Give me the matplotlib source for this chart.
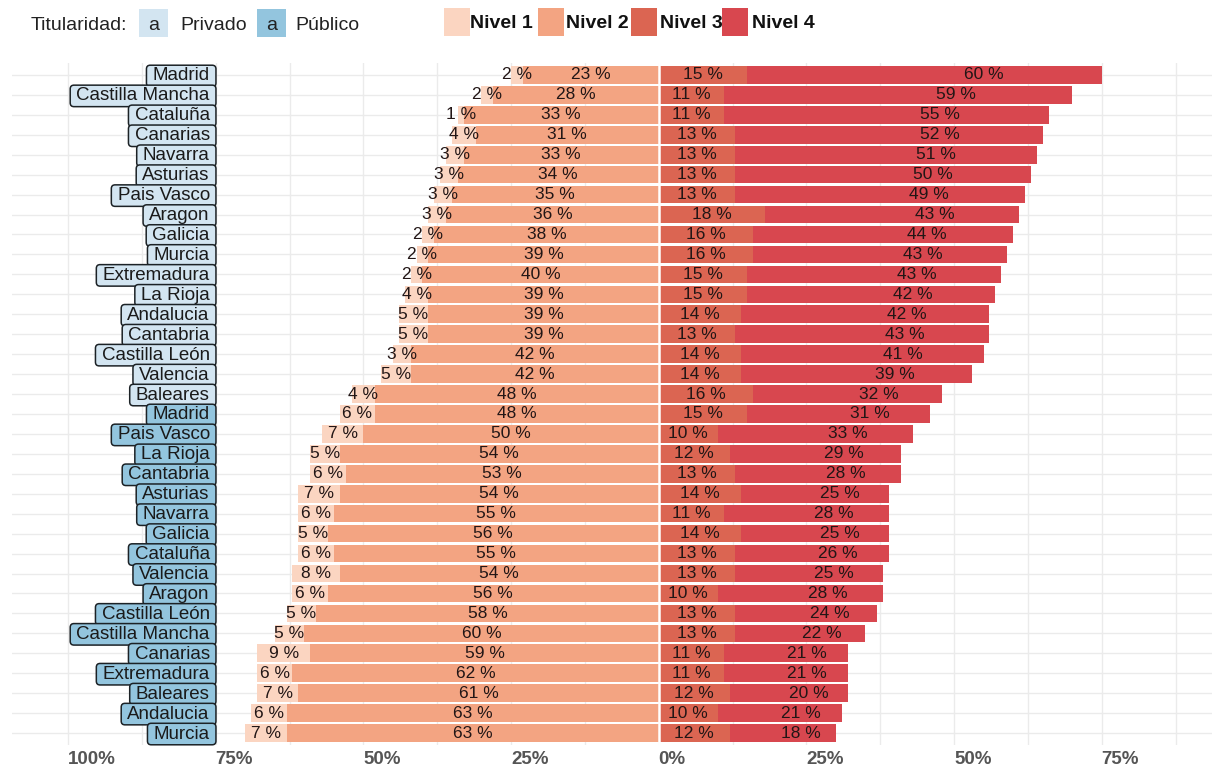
import matplotlib
matplotlib.use("Agg")
import matplotlib.pyplot as plt
from matplotlib.path import Path
from matplotlib.patches import Rectangle
import numpy as np

plt.rcParams['font.family'] = ['Liberation Sans', 'DejaVu Sans']

# ---------------- data (top to bottom) ----------------
regiones = ["Madrid", "Castilla Mancha", "Cataluña", "Canarias", "Navarra", "Asturias",
            "Pais Vasco", "Aragon", "Galicia", "Murcia", "Extremadura", "La Rioja",
            "Andalucia", "Cantabria", "Castilla León", "Valencia", "Baleares",
            "Madrid", "Pais Vasco", "La Rioja", "Cantabria", "Asturias", "Navarra",
            "Galicia", "Cataluña", "Valencia", "Aragon", "Castilla León",
            "Castilla Mancha", "Canarias", "Extremadura", "Baleares", "Andalucia", "Murcia"]
titularidad = ["Privado"] * 17 + ["Público"] * 17
nivel1 = [2, 2, 1, 4, 3, 3, 3, 3, 2, 2, 2, 4, 5, 5, 3, 5, 4,
          6, 7, 5, 6, 7, 6, 5, 6, 8, 6, 5, 5, 9, 6, 7, 6, 7]
nivel2 = [23, 28, 33, 31, 33, 34, 35, 36, 38, 39, 40, 39, 39, 39, 42, 42, 48,
          48, 50, 54, 53, 54, 55, 56, 55, 54, 56, 58, 60, 59, 62, 61, 63, 63]
nivel3 = [15, 11, 11, 13, 13, 13, 13, 18, 16, 16, 15, 15, 14, 13, 14, 14, 16,
          15, 10, 12, 13, 14, 11, 14, 13, 13, 10, 13, 13, 11, 11, 12, 10, 12]
nivel4 = [60, 59, 55, 52, 51, 50, 49, 43, 44, 43, 43, 42, 42, 43, 41, 39, 32,
          31, 33, 29, 28, 25, 28, 25, 26, 25, 28, 24, 22, 21, 21, 20, 21, 18]
niveles = ["Nivel 1", "Nivel 2", "Nivel 3", "Nivel 4"]
xticks = [-100, -75, -50, -25, 0, 25, 50, 75]
xtick_labels = ["100%", "75%", "50%", "25%", "0%", "25%", "50%", "75%"]

# ---------------- style ----------------
col_niv = ["#FBD5C1", "#F3A482", "#DB6552", "#D8474F"]
col_tit = {"Privado": "#D3E5F1", "Público": "#93C5DE"}
txt_col = "#221616"
W, H = 1219, 769
fig = plt.figure(figsize=(W / 100, H / 100), dpi=100)

def fx(px):
    return px / W

def fy(py):
    return 1 - py / H

ax_l, ax_r, ax_t, ax_b = 12, 1212, 63, 745
ax = fig.add_axes([fx(ax_l), fy(ax_b), fx(ax_r - ax_l), (ax_b - ax_t) / H])
zero_px, px_per = 658.7, 5.907
ax.set_xlim((ax_l - zero_px) / px_per, (ax_r - zero_px) / px_per)
n = len(regiones)
ax.set_ylim(-0.6, n - 1 + 0.6)

y = np.arange(n)[::-1]  # first row at top
n1 = np.array(nivel1); n2 = np.array(nivel2); n3 = np.array(nivel3); n4 = np.array(nivel4)

# grid
for gx in np.arange(-112.5, 100, 12.5):
    ax.axvline(gx, color="#ebebeb", lw=1.0, zorder=0)
for gy in y:
    ax.axhline(gy, color="#ebebeb", lw=1.0, zorder=0)

h = 0.88
ax.barh(y, n1, left=-(n1 + n2), height=h, color=col_niv[0], zorder=2, label=niveles[0])
ax.barh(y, n2, left=-n2, height=h, color=col_niv[1], zorder=2, label=niveles[1])
ax.barh(y, n3, left=0, height=h, color=col_niv[2], zorder=2, label=niveles[2])
ax.barh(y, n4, left=n3, height=h, color=col_niv[3], zorder=2, label=niveles[3])
ax.axvline(0, color="white", lw=1.8, zorder=3)

fs_pct = 12.5
for i in range(n):
    ax.text(-(n1[i] + n2[i]) + n1[i] / 2, y[i], f"{n1[i]} %", ha="center", va="center",
            fontsize=fs_pct, color=txt_col, zorder=4)
    ax.text(-n2[i] / 2, y[i], f"{n2[i]} %", ha="center", va="center",
            fontsize=fs_pct, color=txt_col, zorder=4)
    ax.text(n3[i] / 2, y[i], f"{n3[i]} %", ha="center", va="center",
            fontsize=fs_pct, color=txt_col, zorder=4)
    ax.text(n3[i] + n4[i] * 2 / 3, y[i], f"{n4[i]} %", ha="center", va="center",
            fontsize=fs_pct, color=txt_col, zorder=4)


def label_box(x0, y0, width, height, mutation_size):
    padx = 0.33 * mutation_size
    pady = 0.12 * mutation_size
    x0 -= padx; y0 -= pady
    w = width + 2 * padx; hh = height + 2 * pady
    r = 0.2 * mutation_size
    x1, y1 = x0 + w, y0 + hh
    verts = [(x0 + r, y0), (x1 - r, y0), (x1, y0), (x1, y0 + r),
             (x1, y1 - r), (x1, y1), (x1 - r, y1),
             (x0 + r, y1), (x0, y1), (x0, y1 - r),
             (x0, y0 + r), (x0, y0), (x0 + r, y0), (x0 + r, y0)]
    codes = [Path.MOVETO, Path.LINETO, Path.CURVE3, Path.CURVE3,
             Path.LINETO, Path.CURVE3, Path.CURVE3,
             Path.LINETO, Path.CURVE3, Path.CURVE3,
             Path.LINETO, Path.CURVE3, Path.CURVE3, Path.CLOSEPOLY]
    return Path(verts, codes)


for i in range(n):
    ax.text(-76.0, y[i] - 0.05, regiones[i], ha="right", va="center", fontsize=13.5,
            color="#1a1a1a", zorder=10 + i,
            bbox=dict(boxstyle=label_box, fc=col_tit[titularidad[i]],
                      ec="#1c2226", lw=1.1))

ax.set_xticks(xticks)
ax.set_xticklabels(xtick_labels, fontsize=13.5, fontweight="bold", color="#555555")
for lab in ax.get_xticklabels():
    lab.set_horizontalalignment("left")
ax.tick_params(axis="x", length=0, pad=4)
ax.set_yticks([])
for s in ax.spines.values():
    s.set_visible(False)

# ---------------- legends (top) ----------------
fig.text(fx(31), fy(25), "Titularidad:", fontsize=14, color="#222222", ha="left", va="center")
leg_tit = [("Privado", 139, 180), ("Público", 257, 295)]
for name, kx, tx in leg_tit:
    fig.patches.append(Rectangle((fx(kx), fy(37)), fx(29), 28 / H, transform=fig.transFigure,
                                 fc=col_tit[name], ec="none"))
    fig.text(fx(kx + 14.5), fy(25), "a", fontsize=14, color="#222222", ha="center", va="center")
    fig.text(fx(tx), fy(25), name, fontsize=14, color="#222222", ha="left", va="center")

leg_niv = [(444, 470), (538, 566), (631, 660), (722, 752)]
for j, (kx, tx) in enumerate(leg_niv):
    fig.patches.append(Rectangle((fx(kx), fy(36)), fx(26), 28 / H, transform=fig.transFigure,
                                 fc=col_niv[j], ec="none"))
    fig.text(fx(tx), fy(23), niveles[j], fontsize=14, fontweight="bold", color="#111111",
             ha="left", va="center")

fig.savefig("out.png", dpi=100, facecolor="white")
